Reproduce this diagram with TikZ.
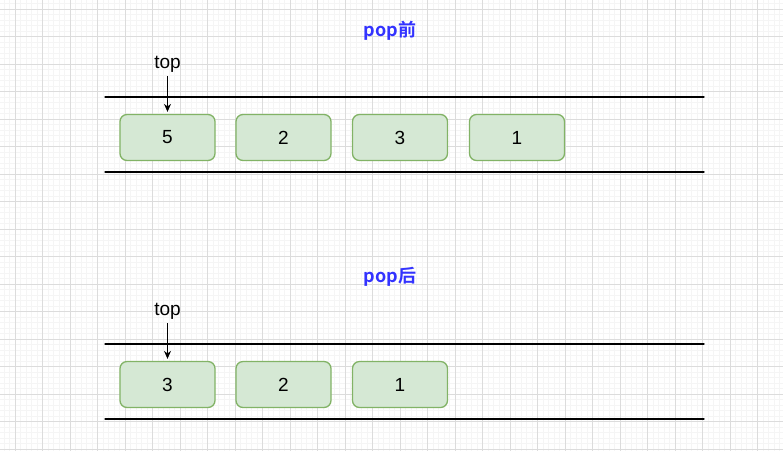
\documentclass[tikz,border=0pt]{standalone}
\usepackage{fontspec}
\setmainfont{Liberation Sans}
\newfontfamily\cjkfont{Noto Sans CJK SC}[BoldFont={* Bold}]
\usetikzlibrary{arrows.meta, positioning}

\definecolor{cellfill}{HTML}{D5E8D4}
\definecolor{celldraw}{HTML}{82B366}
\definecolor{titleblue}{HTML}{3333FF}
\definecolor{gridminor}{HTML}{F5F5F5}
\definecolor{gridmajor}{HTML}{DCDCDC}

\tikzset{
  cell/.style={draw=celldraw, fill=cellfill, line width=1.3pt, rounded corners=7pt,
    minimum width=95pt, minimum height=46pt, inner sep=0pt, font=\fontsize{19}{21}\selectfont},
  toplbl/.style={inner sep=0pt, font=\fontsize{19}{21}\selectfont},
  title/.style={inner sep=0pt, text=titleblue, font=\cjkfont\bfseries\fontsize{18}{20}\selectfont},
  wall/.style={line width=1.3pt, line cap=round},
  ptr/.style={-{Stealth[length=8pt,width=7pt]}, line width=0.9pt, shorten >=2pt}
}

\begin{document}
\begin{tikzpicture}[x=1pt, y=-1pt]

	\useasboundingbox (0,0) rectangle (783,451);
	\fill[white] (0,0) rectangle (783,451);

	% Grid
	\foreach \k in {0,...,141}
	\draw[gridminor, line width=0.8pt] ({4+5.5*\k},0) -- ++(0,451);
	\foreach \k in {0,...,81}
	\draw[gridminor, line width=0.8pt] (0,{3.8+5.5*\k}) -- ++(783,0);
	\foreach \k in {0,...,27}
	\draw[gridmajor, line width=0.8pt] ({15+27.5*\k},0) -- ++(0,451);
	\foreach \k in {0,...,16}
	\draw[gridmajor, line width=0.8pt] (0,{9.3+27.5*\k}) -- ++(783,0);

	% Before pop
	\node[title] (before) at (390,31) {pop前};
	\draw[wall] (105,97) -- (704,97);
	\draw[wall] (105,172) -- (704,172);

	\node[cell] (b5) at (167.5,137.5) {5};
	\node[cell] (b2) at (283.5,137.5) {2};
	\node[cell] (b3) at (400,137.5) {3};
	\node[cell] (b1) at (517,137.5) {1};

	\node[toplbl] (btop) at (167.5,64) {top};
	\coordinate (bstart) at (167.5,76);
	\draw[ptr] (bstart) -- (b5.north);

	% After pop
	\node[title] (after) at (390,277) {pop后};
	\draw[wall] (105,344) -- (704,344);
	\draw[wall] (105,419) -- (704,419);

	\node[cell] (a3) at (167.5,384.5) {3};
	\node[cell] (a2) at (283.5,384.5) {2};
	\node[cell] (a1) at (400,384.5) {1};

	\node[toplbl] (atop) at (167.5,311) {top};
	\coordinate (astart) at (167.5,323);
	\draw[ptr] (astart) -- (a3.north);

\end{tikzpicture}
\end{document}
